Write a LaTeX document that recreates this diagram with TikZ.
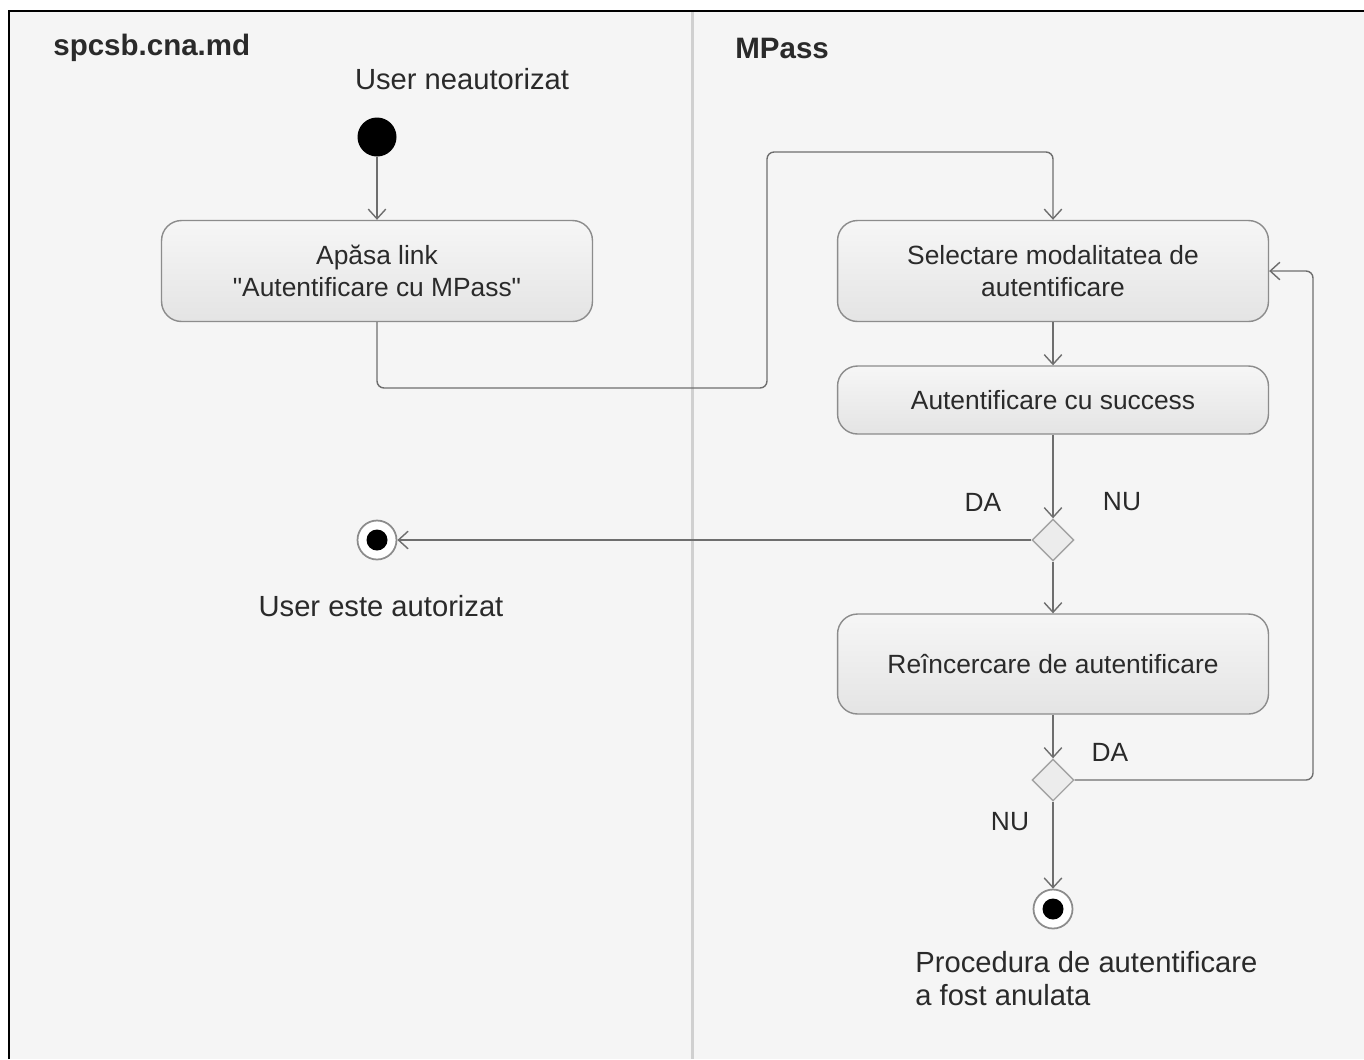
\documentclass[tikz,border=0pt]{standalone}
\usepackage{fontspec}
\setmainfont{Liberation Sans}
\usetikzlibrary{arrows.meta, shapes.geometric}

\definecolor{lanebg}{HTML}{F5F5F5}
\definecolor{lanesep}{HTML}{D0D0D0}
\definecolor{boxline}{HTML}{8C8C8C}
\definecolor{boxtop}{HTML}{F6F6F6}
\definecolor{boxbot}{HTML}{E4E4E4}
\definecolor{edgegray}{HTML}{6E6E6E}
\definecolor{txt}{HTML}{2A2A2A}

\begin{document}
\begin{tikzpicture}[x=0.02cm, y=-0.02cm,
    font=\fontsize{15}{18.5}\selectfont, text=txt,
    action/.style={draw=boxline, line width=0.8pt, rounded corners=0.4cm,
        top color=boxtop, bottom color=boxbot, minimum width=8.62cm,
        align=center, inner sep=2pt},
    decision/.style={diamond, draw=boxline!80, line width=0.8pt, fill=boxbot!70,
        minimum width=0.84cm, minimum height=0.84cm, inner sep=0pt},
    startnode/.style={circle, fill=black, minimum size=0.78cm, inner sep=0pt},
    endnode/.style={circle, draw=boxline, fill=white, line width=1pt,
        minimum size=0.78cm, inner sep=0pt,
        path picture={\fill[black] (path picture bounding box.center) circle (0.21cm);}},
    flow/.style={draw=edgegray, line width=0.8pt,
        -{Straight Barb[length=5.5pt,width=10pt]}, rounded corners=4pt},
    statelabel/.style={font=\fontsize{16.6}{18.5}\selectfont},
    lanetitle/.style={anchor=west, inner sep=0pt, font=\fontsize{16.8}{19}\selectfont\bfseries}
]

    % Fix the page to the reference size
    \useasboundingbox (0,0) rectangle (1364,1059);

    % Swimlanes
    \fill[lanebg] (9,11) rectangle (1364,1059);
    \draw[lanesep, line width=1.7pt] (692,12) -- (692,1059);
    \draw[black, line width=1.6pt] (9,1059) -- (9,11) -- (1364,11);
    \node[lanetitle] (laneA) at (53,48) {spcsb.cna.md};
    \node[lanetitle] (laneB) at (735,48) {MPass};

    % Start
    \node[statelabel] (startlbl) at (462,79) {User neautorizat};
    \node[startnode] (start) at (377,137) {};

    % Actions
    \node[action, minimum height=2.02cm] (apasa) at (377,271)
        {Apăsa link\\\textquotedbl Autentificare cu MPass\textquotedbl};
    \node[action, minimum height=2.02cm] (selectare) at (1053,271)
        {Selectare modalitatea de\\autentificare};
    \node[action, minimum height=1.36cm] (succes) at (1053,400)
        {Autentificare cu success};
    \node[action, minimum height=2.0cm] (reincercare) at (1053,664)
        {Reîncercare de autentificare};

    % Decisions
    \node[decision] (dec1) at (1053,540) {};
    \node[decision] (dec2) at (1053,780) {};

    % Ends
    \node[endnode] (endok) at (377,540) {};
    \node[statelabel] (endoklbl) at (381,606) {User este autorizat};
    \node[endnode] (endno) at (1053,909) {};
    \node[statelabel, anchor=north west, align=left, inner sep=0pt] (endnolbl) at (915,951)
        {Procedura de autentificare\\a fost anulata};

    % Guard labels
    \node (da1) at (983,502) {DA};
    \node (nu1) at (1122,502) {NU};
    \node (da2) at (1110,752) {DA};
    \node (nu2) at (1010,822) {NU};

    % Bend points
    \coordinate (bendlow) at (767,388);
    \coordinate (bendhigh) at (767,152);
    \coordinate (loopright) at (1313,271);

    % Flows
    \draw[flow] (start) -- (apasa);
    \draw[flow] (apasa.south) |- (bendlow) -- (bendhigh) -| (selectare.north);
    \draw[flow] (selectare) -- (succes);
    \draw[flow] (succes) -- (dec1);
    \draw[flow] (dec1.west) -- (endok);
    \draw[flow] (dec1.south) -- (reincercare.north);
    \draw[flow] (reincercare) -- (dec2);
    \draw[flow] (dec2.east) -| (loopright) -- (selectare.east);
    \draw[flow] (dec2.south) -- (endno);

\end{tikzpicture}
\end{document}
